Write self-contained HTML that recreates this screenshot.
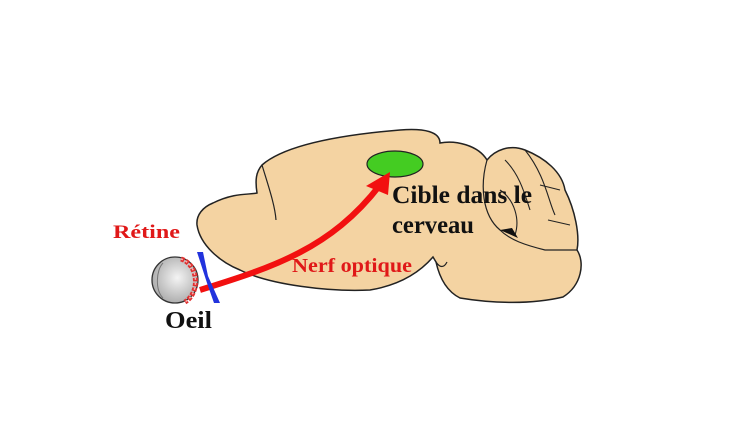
<!DOCTYPE html>
<html><head><meta charset="utf-8"><style>
html,body{margin:0;padding:0;background:#fff;}
svg{display:block;}
text{font-family:"Liberation Serif",serif;font-weight:bold;}
</style></head><body>
<svg width="754" height="441" viewBox="0 0 754 441" xmlns="http://www.w3.org/2000/svg">
<defs>
<radialGradient id="eg" cx="0.55" cy="0.45" r="0.6">
<stop offset="0" stop-color="#f4f4f4"/><stop offset="1" stop-color="#a8a8a8"/>
</radialGradient>
</defs>
<path d="M213,203 C235,192 250,195 257,193 C255,180 256,172 262,165 C285,145 340,135 400,130 C425,128 440,132 440,143 C455,140 478,145 487,160 C495,150 510,144 525,150 C545,158 562,172 565,190 C575,210 580,235 577,250 C585,262 582,285 563,297 C530,305 490,303 460,298 C448,292 440,280 436,262 L433,257 C420,272 400,285 370,290 C330,292 270,285 240,270 C220,262 200,245 197,225 C196,215 203,207 213,203 Z" fill="#f4d3a2" stroke="#222" stroke-width="1.5"/>
<path d="M262,165 C268,185 275,205 276,220" fill="none" stroke="#222" stroke-width="1.2"/>
<path d="M487,160 C480,185 482,215 500,230 C510,240 525,245 545,250 L577,250" fill="none" stroke="#222" stroke-width="1.2"/>
<path d="M505,160 C520,175 525,195 530,210 M525,150 C545,175 548,200 555,215 M500,190 C515,200 520,220 515,235 M540,185 L560,190 M548,220 L570,225" fill="none" stroke="#222" stroke-width="1.1"/>
<path d="M500,230 L512,228 L518,238 Z" fill="#111"/>
<path d="M436,262 C440,268 444,268 447,262" fill="none" stroke="#222" stroke-width="1.2"/>
<ellipse cx="395" cy="164" rx="28" ry="13" fill="#44cc22" stroke="#222" stroke-width="1.2"/>
<path d="M200,290 C270,268 330,250 380,185" fill="none" stroke="#f21010" stroke-width="6"/>
<polygon points="390,172 366,186 388,195" fill="#f21010"/>
<circle cx="175" cy="280" r="23" fill="url(#eg)" stroke="#333" stroke-width="1.3"/>
<path d="M163,263 C156,270 155,290 163,298" fill="none" stroke="#777" stroke-width="1"/>
<path d="M181,259 C198,264 201,292 185,302" fill="none" stroke="#e03030" stroke-width="5" stroke-dasharray="3.5,1.5"/>
<path d="M181,259 C198,264 201,292 185,302" fill="none" stroke="#f6b0b0" stroke-width="1.5" stroke-dasharray="2,3"/>
<polygon points="197,252 203,252 208,276 220,303 214,303 207,283" fill="#2233dd"/>
<text x="113" y="238" font-size="19" fill="#e01818" textLength="67" lengthAdjust="spacingAndGlyphs">Rétine</text>
<text x="165" y="328" font-size="24" fill="#111" textLength="47" lengthAdjust="spacingAndGlyphs">Oeil</text>
<text x="292" y="272" font-size="20" fill="#e01818" textLength="120" lengthAdjust="spacingAndGlyphs">Nerf optique</text>
<text x="392" y="203" font-size="25" fill="#111" textLength="140" lengthAdjust="spacingAndGlyphs">Cible dans le</text>
<text x="392" y="233" font-size="25" fill="#111" textLength="82" lengthAdjust="spacingAndGlyphs">cerveau</text>
</svg>
</body></html>
